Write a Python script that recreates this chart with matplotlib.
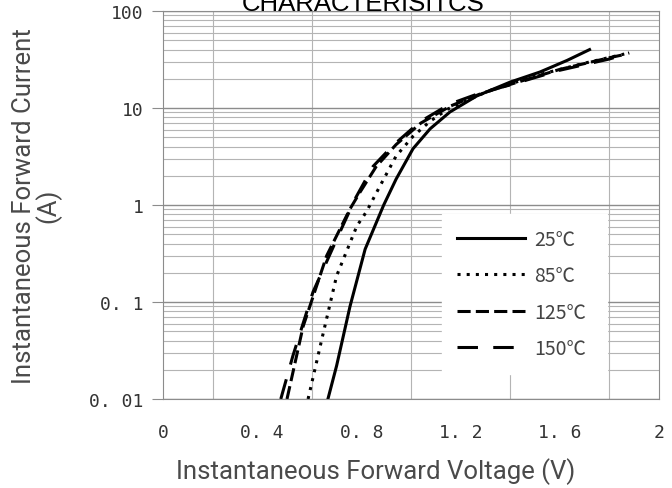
import matplotlib
matplotlib.use("Agg")
import matplotlib.pyplot as plt
from matplotlib.ticker import LogLocator, NullFormatter

# Forward characteristics
v_25 = [0.665, 0.70, 0.754, 0.815, 0.89, 0.94, 1.008, 1.077, 1.157, 1.265, 1.40, 1.52, 1.63, 1.72]
i_25 = [0.01, 0.022, 0.09, 0.35, 1.0, 1.85, 3.8, 6.1, 9.1, 13.3, 18.5, 23.5, 31, 40]

v_85 = [0.585, 0.641, 0.70, 0.782, 0.82, 0.875, 0.94, 1.008, 1.077, 1.15, 1.30, 1.50, 1.70, 1.86]
i_85 = [0.01, 0.042, 0.186, 0.61, 0.85, 1.57, 3.2, 5.1, 7.3, 9.8, 14.5, 21.5, 29, 36]

v_125 = [0.50, 0.565, 0.66, 0.754, 0.79, 0.86, 0.94, 1.04, 1.16, 1.28, 1.40, 1.60, 1.80, 1.87]
i_125 = [0.01, 0.056, 0.30, 0.91, 1.3, 2.5, 4.2, 7.0, 10.5, 14.0, 17.5, 25, 33, 36]

v_150 = [0.475, 0.524, 0.605, 0.714, 0.774, 0.847, 0.927, 1.036, 1.157, 1.28, 1.40, 1.60, 1.80, 1.88]
i_150 = [0.01, 0.028, 0.127, 0.53, 1.15, 2.5, 4.1, 7.2, 11.0, 14.3, 17.3, 24.5, 32, 37]

labels = ["25℃", "85℃", "125℃", "150℃"]
x_ticks = [0, 0.4, 0.8, 1.2, 1.6, 2]
x_ticklabels = ["0", "0. 4", "0. 8", "1. 2", "1. 6", "2"]
y_ticks = [0.01, 0.1, 1, 10, 100]
y_ticklabels = ["0. 01", "0. 1", "1", "10", "100"]

fig = plt.figure(figsize=(6.72, 4.89), dpi=100)
ax = fig.add_axes([163 / 672, 89 / 489, 496 / 672, 388 / 489])

styles = ["-", (0, (1, 2)), (0, (4.3, 1.7)), (0, (6.7, 5))]
for v, i, lab, ls in zip([v_25, v_85, v_125, v_150], [i_25, i_85, i_125, i_150], labels, styles):
    ax.plot(v, i, color="black", lw=2.2, linestyle=ls, label=lab, dash_capstyle="butt")

ax.set_yscale("log")
ax.set_xlim(0, 2)
ax.set_ylim(0.01, 100)

ax.set_xticks(x_ticks, labels=x_ticklabels)
ax.set_xticks([0.2 * k for k in range(11)], minor=True)
ax.set_yticks(y_ticks, labels=y_ticklabels)
ax.yaxis.set_minor_locator(LogLocator(base=10, subs=range(2, 10)))
ax.yaxis.set_minor_formatter(NullFormatter())

ax.grid(which="major", axis="y", color="#8c8c8c", lw=1.0)
ax.grid(which="minor", axis="y", color="#b4b4b4", lw=0.8)
ax.grid(which="minor", axis="x", color="#b4b4b4", lw=0.8)

for s in ax.spines.values():
    s.set_color("#8c8c8c")
    s.set_linewidth(0.8)

ax.tick_params(axis="x", which="both", length=0, pad=17, labelcolor="#333333")
ax.tick_params(axis="y", which="major", length=8, color="#8c8c8c", pad=6, labelcolor="#333333")
ax.tick_params(axis="y", which="minor", length=0)
for t in ax.get_xticklabels() + ax.get_yticklabels():
    t.set_fontfamily("DejaVu Sans Mono")
    t.set_fontsize(13)

ax.set_xlabel("Instantaneous Forward Voltage (V)", fontsize=18.5, family="Roboto", color="#4a4a4a")
ax.xaxis.set_label_coords((376 - 163) / 496, -0.15)
ax.set_ylabel("Instantaneous Forward Current\n(A)", fontsize=18.5, family="Roboto", color="#4a4a4a",
              linespacing=0.95)
ax.yaxis.set_label_coords(-0.205, 0.5)

leg = ax.legend(loc="upper left", bbox_to_anchor=(0.5625, 0.111, 0.3325, 0.366), mode="expand",
                frameon=True, fancybox=False, handlelength=3.5, labelspacing=0.8, handletextpad=0.5,
                prop={"family": ["Noto Sans CJK JP", "DejaVu Sans"], "size": 14},
                borderaxespad=0, borderpad=0.75)
leg.get_frame().set_edgecolor("white")
leg.get_frame().set_facecolor("white")
leg.get_frame().set_alpha(1)
for t in leg.get_texts():
    t.set_color("#444444")

fig.text(363 / 672, 1 - 11 / 489, "CHARACTERISITCS", ha="center", va="baseline",
         fontsize=18.5, family="Liberation Sans", color="black")

fig.savefig("out.png", dpi=100)
